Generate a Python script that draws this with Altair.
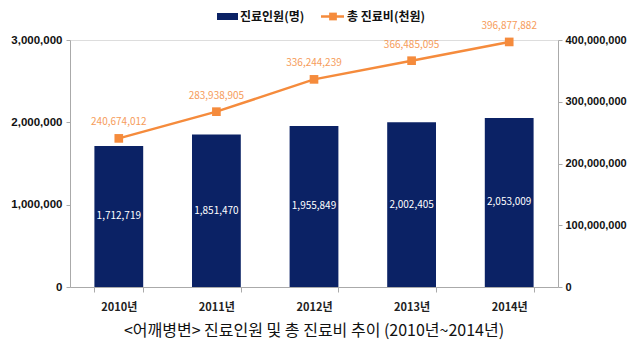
import altair as alt
import pandas as pd

years = ["2010년", "2011년", "2012년", "2013년", "2014년"]
patients = [1712719, 1851470, 1955849, 2002405, 2053009]
costs = [240674012, 283938905, 336244239, 366485095, 396877882]

legend_labels = ["진료인원(명)", "총 진료비(천원)"]
title_text = "<어깨병변> 진료인원 및 총 진료비 추이 (2010년~2014년)"

df = pd.DataFrame({"year": years, "patients": patients, "costs": costs})
one = pd.DataFrame({"a": [0]})

NAVY = "#0B2265"
ORANGE = "#F58B3C"
FONT = "Noto Sans CJK KR"
NUMFONT = "Liberation Sans"

x_enc = alt.X(
    "year:N",
    sort=years,
    scale=alt.Scale(paddingInner=0.5, paddingOuter=0.25),
    axis=alt.Axis(
        title=None, labelAngle=0, labelFontWeight="bold", labelFontSize=11,
        labelColor="#222", labelPadding=9, tickBand="extent", tickSize=5,
        domainColor="#aaa", tickColor="#aaa", labelFont=FONT,
    ),
)

base = alt.Chart(df)

bars = base.mark_bar(color=NAVY).encode(
    x=x_enc,
    y=alt.Y(
        "patients:Q",
        scale=alt.Scale(domain=[0, 3000000]),
        axis=alt.Axis(
            title=None, values=[0, 1000000, 2000000, 3000000], format=",d",
            labelFontWeight="bold", labelFontSize=11.5, labelColor="#111",
            domainColor="#aaa", tickColor="#aaa", tickSize=4, grid=False,
            labelPadding=4, labelFont=NUMFONT,
        ),
    ),
)
bar_text = base.mark_text(color="white", fontSize=10, font=FONT, baseline="middle").encode(
    x=alt.X("year:N", sort=years),
    y=alt.Y("mid:Q"),
    text=alt.Text("patients:Q", format=","),
).transform_calculate(mid="datum.patients / 2")

left = alt.layer(bars, bar_text)

line = base.mark_line(
    color=ORANGE, strokeWidth=2.5,
    point=alt.OverlayMarkDef(shape="square", size=75, filled=True, color=ORANGE),
).encode(
    x=alt.X("year:N", sort=years),
    y=alt.Y(
        "costs:Q",
        scale=alt.Scale(domain=[0, 400000000]),
        axis=alt.Axis(
            title=None, orient="right",
            values=[0, 100000000, 200000000, 300000000, 400000000], format=",d",
            labelFontWeight="bold", labelFontSize=11, labelColor="#111",
            domainColor="#aaa", tickColor="#aaa", tickSize=4, grid=False,
            labelPadding=3, labelFont=NUMFONT,
        ),
    ),
)
line_text = base.mark_text(color=ORANGE, fontSize=10, font=FONT, dy=-16, opacity=0.85).encode(
    x=alt.X("year:N", sort=years),
    y=alt.Y("costs:Q"),
    text=alt.Text("costs:Q", format=","),
)
right = alt.layer(line, line_text)

lg = alt.Chart(one)
leg_rect = lg.mark_rect(color=NAVY).encode(
    x=alt.value(147), x2=alt.value(168), y=alt.value(-27), y2=alt.value(-20)
)
leg_t1 = lg.mark_text(align="left", baseline="middle", fontWeight="bold", fontSize=12, font=FONT, color="#111").encode(
    x=alt.value(170), y=alt.value(-23.5), text=alt.value(legend_labels[0])
)
leg_line = lg.mark_rule(color=ORANGE, strokeWidth=2.5).encode(
    x=alt.value(251), x2=alt.value(274), y=alt.value(-23.5)
)
leg_sq = lg.mark_square(color=ORANGE, size=60, opacity=1).encode(
    x=alt.value(263), y=alt.value(-23.5)
)
leg_t2 = lg.mark_text(align="left", baseline="middle", fontWeight="bold", fontSize=12, font=FONT, color="#111").encode(
    x=alt.value(277), y=alt.value(-23.5), text=alt.value(legend_labels[1])
)
legend = alt.layer(leg_rect, leg_t1, leg_line, leg_sq, leg_t2)

chart = alt.layer(left, right, legend).resolve_scale(y="independent").properties(
    width=488, height=247,
    padding={"left": 70, "top": 40, "right": 72, "bottom": 59},
    autosize=alt.AutoSizeParams(type="none"),
    title=alt.TitleParams(
        text=title_text, orient="bottom", anchor="middle", fontSize=16,
        fontWeight="normal", font=FONT, color="#111", offset=11,
    ),
).configure_view(stroke=None).configure(background="white")

chart.save("out.html", embed_options={"renderer": "svg", "actions": False})
